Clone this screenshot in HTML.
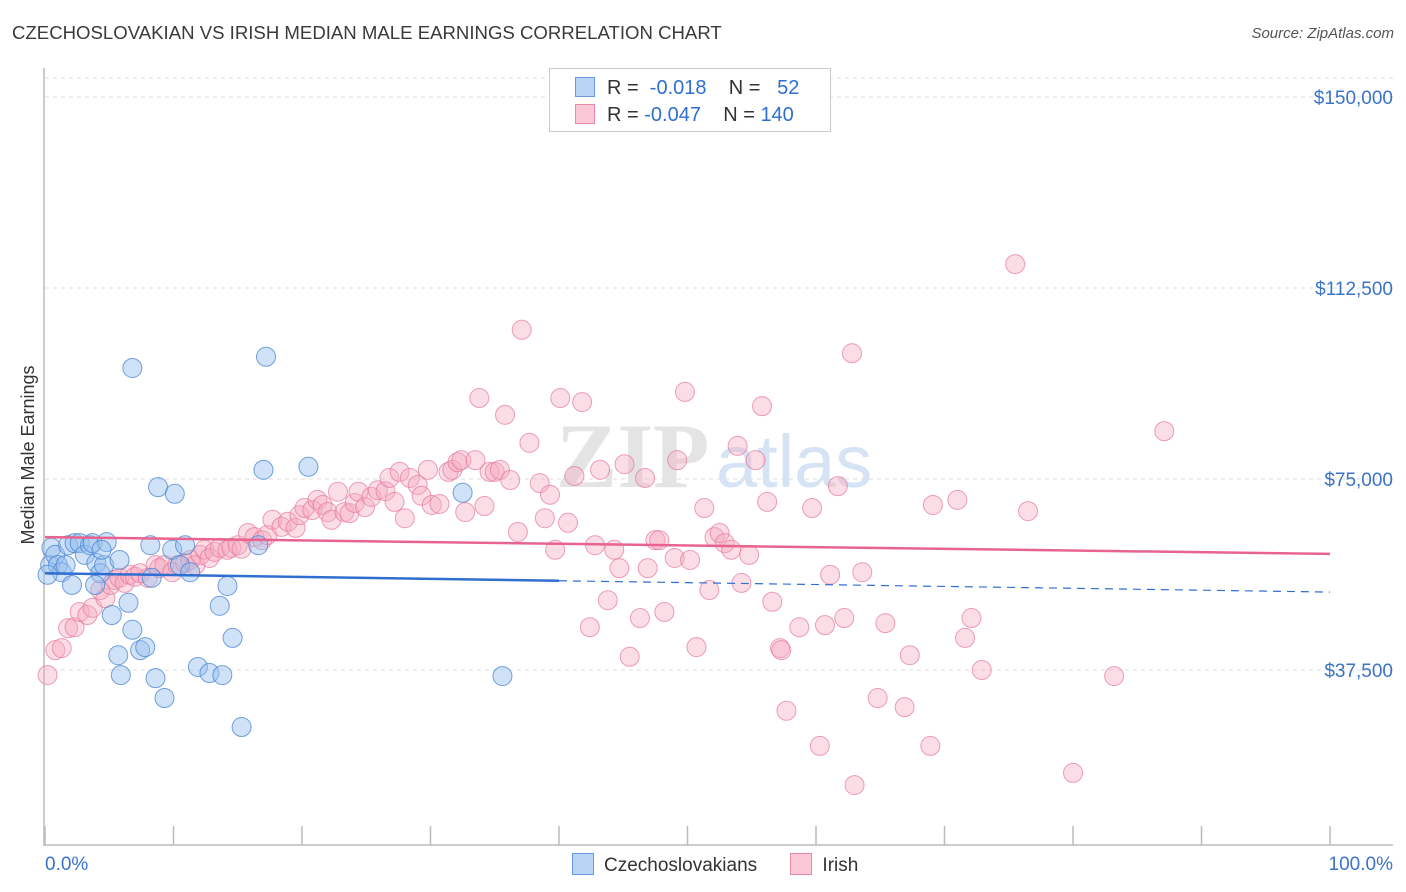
<!DOCTYPE html>
<html><head><meta charset="utf-8">
<style>
body{margin:0;background:#fff;font-family:"Liberation Sans",sans-serif;}
#wrap{position:relative;width:1406px;height:892px;overflow:hidden;}
.t{position:absolute;white-space:nowrap;}
</style></head>
<body>
<div id="wrap">
<div class="t" style="left:12px;top:22px;font-size:18.6px;color:#3a3a3a;">CZECHOSLOVAKIAN VS IRISH MEDIAN MALE EARNINGS CORRELATION CHART</div>
<div class="t" style="right:12px;top:25px;font-size:15px;color:#555;font-style:italic;">Source: ZipAtlas.com</div>
<svg id="svg" width="1406" height="892" style="position:absolute;left:0;top:0"></svg>
</div>
<script>
const yTicks=[37500,75000,112500,150000];
const yTickLabels=["$37,500","$75,000","$112,500","$150,000"];
const xLabels=["0.0%","100.0%"];
const czX=[0.4,0.5,0.8,1.0,1.3,1.8,2.1,2.3,2.7,3.1,3.5,3.7,4.0,4.3,4.6,4.8,5.2,5.7,5.9,6.5,6.8,6.8,7.4,7.8,8.2,8.3,8.6,8.8,9.3,9.9,10.1,10.5,10.9,11.3,11.9,12.8,13.6,13.8,14.2,14.6,15.3,16.6,17.0,17.2,20.5,32.5,35.6,0.2,1.6,3.9,5.8,4.4];
const czY=[58.1,61.5,60.1,58.1,56.7,62.0,54.2,62.4,62.4,60.1,62.0,62.4,58.5,56.5,58.1,62.6,48.3,40.4,36.5,50.7,96.8,45.4,41.4,42.0,62.0,55.6,35.9,73.4,32.0,61.1,72.1,58.1,62.0,56.7,38.1,36.9,50.1,36.5,54.0,43.8,26.3,62.0,76.8,99.0,77.4,72.3,36.3,56.2,58.1,54.2,59.1,61.1];
const irX=[0.2,0.8,1.3,1.8,2.3,2.7,3.3,3.7,4.3,4.7,5.1,5.4,5.8,6.2,6.6,7.0,7.4,8.0,8.6,8.9,9.3,9.9,10.3,10.9,11.3,11.7,12.1,12.4,12.8,13.2,13.6,14.2,14.5,15.0,15.3,15.8,16.3,16.9,17.3,17.7,18.4,18.9,19.5,19.8,20.2,20.8,21.2,21.6,22.0,22.3,22.8,23.3,23.7,24.1,24.4,24.9,25.4,25.9,26.5,26.8,27.2,27.6,28.0,28.4,29.0,29.3,29.8,30.1,30.7,31.4,31.7,32.1,32.4,32.7,33.5,33.8,34.2,34.6,35.0,35.4,35.8,36.2,36.8,37.1,37.7,38.5,38.9,39.3,39.7,40.1,40.7,41.2,41.8,42.4,42.8,43.2,43.8,44.3,44.7,45.1,45.5,46.3,46.7,46.9,47.5,47.8,48.2,49.0,49.2,49.8,50.2,50.7,51.3,51.7,52.1,52.5,52.9,53.4,53.9,54.2,54.8,55.3,55.8,56.2,56.6,57.2,57.3,57.7,58.7,59.7,60.3,60.7,61.1,61.7,62.2,62.8,63.0,63.6,64.8,65.4,66.9,67.3,68.9,69.1,71.0,71.6,72.1,72.9,75.5,76.5,80.0,83.2,87.1];
const irY=[36.5,41.4,41.8,45.7,45.9,48.9,48.3,49.7,53.2,51.6,54.2,55.2,55.6,54.6,56.2,55.8,56.5,55.6,58.1,57.5,58.1,56.7,58.1,58.5,59.1,58.1,60.1,61.1,59.5,60.7,61.5,61.1,61.5,62.0,61.3,64.4,63.6,63.0,64.0,67.0,65.6,66.6,65.4,67.9,69.3,68.9,70.9,69.9,68.5,67.0,72.5,68.5,68.3,70.3,72.5,69.5,71.5,72.8,72.6,75.2,70.5,76.4,67.3,75.2,73.8,71.7,76.8,69.9,70.1,76.4,76.8,78.3,78.7,68.5,78.7,90.9,69.7,76.4,76.4,76.8,87.6,74.8,64.6,104.3,82.1,74.2,67.3,71.9,61.1,90.9,66.4,75.6,90.1,45.9,62.0,76.8,51.2,61.1,57.5,77.9,40.1,47.7,75.2,57.5,63.0,63.0,48.9,59.5,78.7,92.1,59.1,42.0,69.3,53.2,63.6,64.4,62.4,61.1,81.5,54.6,60.1,78.7,89.3,70.5,50.9,41.8,41.4,29.5,45.9,69.3,22.6,46.3,56.2,73.6,47.7,99.7,14.9,56.7,32.0,46.7,30.2,40.4,22.6,69.9,70.9,43.8,47.7,37.5,117.2,68.7,17.3,36.3,84.4];
const czTrend=[56.5,52.8];
const irTrend=[63.6,60.3];
const NS="http://www.w3.org/2000/svg";
const svg=document.getElementById('svg');
const X=p=>45+p*12.85;
const Y=v=>861-v*5.0933; // v in $k
function mk(tag,attrs,parent){const e=document.createElementNS(NS,tag);for(const k in attrs)e.setAttribute(k,attrs[k]);(parent||svg).appendChild(e);return e;}
let g=mk('line',{x1:45,x2:1393,y1:78,y2:78,stroke:'#ddd','stroke-dasharray':'4,4'});


yTicks.forEach((v,i)=>{
  const l=mk('line',{x1:45,x2:1393,y1:Y(v/1000),y2:Y(v/1000),stroke:'#ddd','stroke-dasharray':'4,4'});
  
  
  const t=mk('text',{x:1393,y:Y(v/1000)+7,'text-anchor':'end','font-size':19,fill:'#3b73c8','font-family':'Liberation Sans, sans-serif'});
  t.textContent=yTickLabels[i];
  
  
});
let a=mk('line',{x1:44,x2:44,y1:68,y2:846,stroke:'#bbb','stroke-width':1.5});


a=mk('line',{x1:44,x2:1393,y1:845,y2:845,stroke:'#bbb','stroke-width':1.5});


for(let i=0;i<=10;i++){const tk=mk('line',{x1:X(i*10),x2:X(i*10),y1:826,y2:845,stroke:'#bbb','stroke-width':1.5});

}
let w=mk('text',{x:556,y:487,'font-size':92,fill:'#e4e4e4','font-family':'Liberation Serif, serif','font-weight':'bold'});w.textContent='ZIP';


w=mk('text',{x:716,y:487,'font-size':74,fill:'#d5e3f5','font-family':'Liberation Sans, sans-serif'});w.textContent='atlas';


irX.forEach((x,i)=>{const c=mk('circle',{cx:X(x),cy:Y(irY[i]),r:9.5,fill:'rgba(244,170,192,0.4)',stroke:'rgba(230,120,155,0.7)','stroke-width':1});

});
czX.forEach((x,i)=>{const c=mk('circle',{cx:X(x),cy:Y(czY[i]),r:9.5,fill:'rgba(150,190,238,0.45)',stroke:'rgba(70,130,210,0.75)','stroke-width':1});

});
const cMid=czTrend[0]+(czTrend[1]-czTrend[0])*0.4;
let tl=mk('line',{x1:X(0),y1:Y(czTrend[0]),x2:X(40),y2:Y(cMid),stroke:'#2f6fd0','stroke-width':2.5});


tl=mk('line',{x1:X(40),y1:Y(cMid),x2:X(100),y2:Y(czTrend[1]),stroke:'#2f6fd0','stroke-width':1.2,'stroke-dasharray':'8,6'});


tl=mk('line',{x1:X(0),y1:Y(irTrend[0]),x2:X(100),y2:Y(irTrend[1]),stroke:'#e8648f','stroke-width':2.5});


let xl=mk('text',{x:45,y:870,'font-size':19,fill:'#3b73c8','font-family':'Liberation Sans, sans-serif'});xl.textContent=xLabels[0];


xl=mk('text',{x:1393,y:870,'text-anchor':'end','font-size':19,fill:'#3b73c8','font-family':'Liberation Sans, sans-serif'});xl.textContent=xLabels[1];


let yt=mk('text',{x:0,y:0,'font-size':18,fill:'#333','font-family':'Liberation Sans, sans-serif','text-anchor':'middle',transform:'translate(34,455) rotate(-90)'});yt.textContent='Median Male Earnings';


</script>
<div style="position:absolute;left:549px;top:68px;width:280px;height:62px;border:1px solid #ccc;background:#fff;font-size:20px;color:#333;">
 <div style="position:absolute;left:25px;top:8px;white-space:nowrap;"><span style="display:inline-block;width:18px;height:18px;background:#b8d3f3;border:1px solid #6a9ad8;vertical-align:-3px;margin-right:12px"></span>R = &nbsp;<span style="color:#2f6fd0">-0.018</span>&nbsp;&nbsp;&nbsp; N = &nbsp;&nbsp;<span style="color:#2f6fd0">52</span></div>
 <div style="position:absolute;left:25px;top:35px;white-space:nowrap;"><span style="display:inline-block;width:18px;height:18px;background:#f9c7d6;border:1px solid #e98aa5;vertical-align:-3px;margin-right:12px"></span>R = <span style="color:#2f6fd0">-0.047</span>&nbsp;&nbsp;&nbsp; N = <span style="color:#2f6fd0">140</span></div>
</div>
<div style="position:absolute;left:572px;top:853px;font-size:19px;color:#333;white-space:nowrap;">
 <span><span style="display:inline-block;width:20px;height:20px;background:#b8d3f3;border:1px solid #6a9ad8;vertical-align:-4px;margin-right:10px"></span>Czechoslovakians</span>
 <span style="margin-left:28px"><span style="display:inline-block;width:20px;height:20px;background:#f9c7d6;border:1px solid #e98aa5;vertical-align:-4px;margin-right:10px"></span>Irish</span>
</div>
</body></html>
